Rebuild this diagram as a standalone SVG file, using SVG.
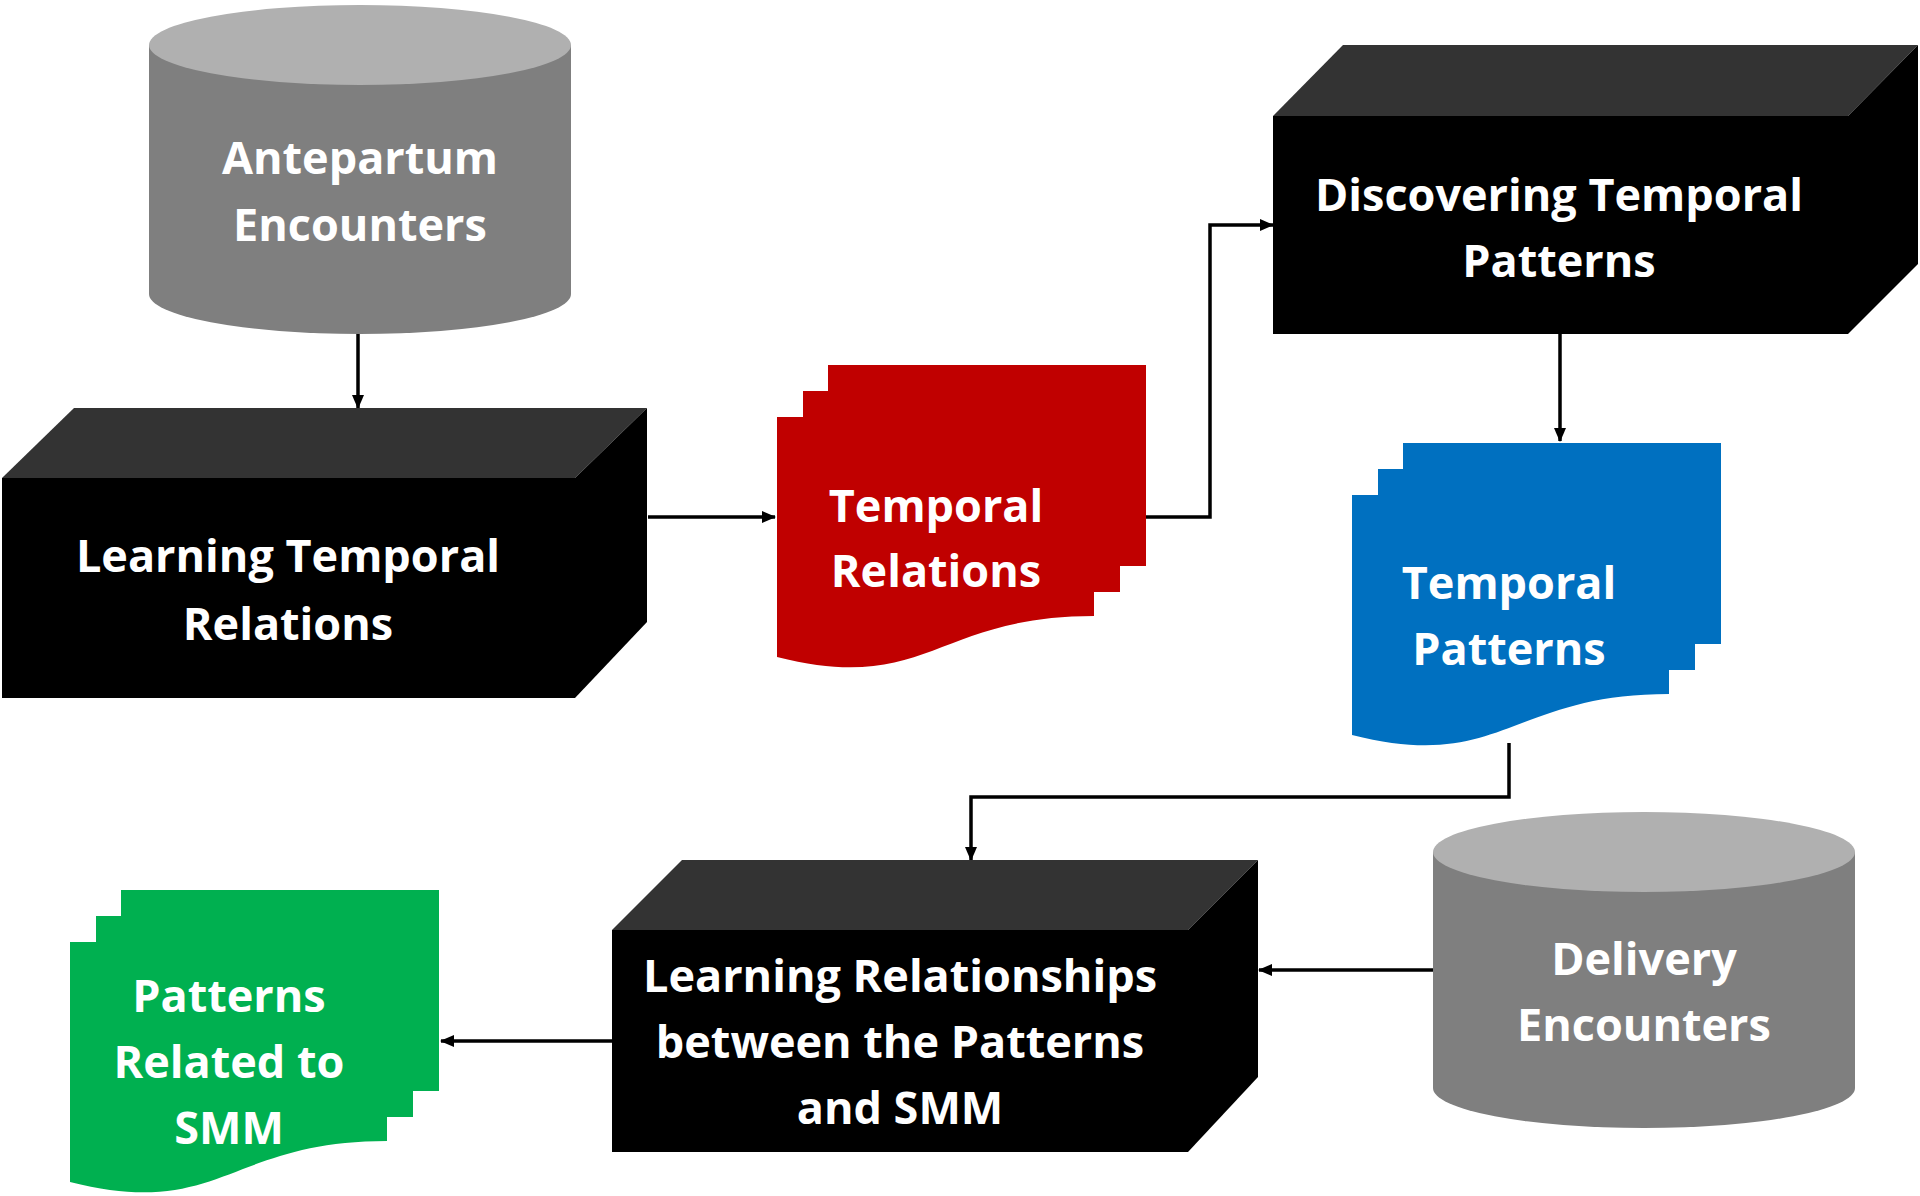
<svg xmlns="http://www.w3.org/2000/svg" width="1920" height="1196" viewBox="0 0 1920 1196">
<style>
.t{font-family:"Open Sans","Liberation Sans",sans-serif;font-weight:700;font-size:45px;fill:#fff;text-anchor:middle}
.top{fill:#333333}
.blk{fill:#000000}
.cylb{fill:#7f7f7f}
.cylt{fill:#b0b0b0}
.c{fill:none;stroke:#000;stroke-width:3.5}
</style>
<defs>
<marker id="ah" markerUnits="userSpaceOnUse" markerWidth="14" markerHeight="12" refX="13" refY="6" orient="auto">
<path d="M0,0 L14,6 L0,12 Z" fill="#000"/>
</marker>
<g id="mdoc">
<rect x="51" y="-52" width="318" height="201"/>
<rect x="26" y="-26" width="317" height="201"/>
<path d="M0,0 L317,0 L317,199 C158,199 150,278 0,240 Z"/>
</g>
</defs>
<rect width="1920" height="1196" fill="#fff"/>

<g id="connectors">
<path class="c" d="M358,333 V408" marker-end="url(#ah)"/>
<path class="c" d="M648,517 H775" marker-end="url(#ah)"/>
<path class="c" d="M1146,517 H1210 V225 H1273" marker-end="url(#ah)"/>
<path class="c" d="M1560,334 V441" marker-end="url(#ah)"/>
<path class="c" d="M1509,743 V797 H971 V860" marker-end="url(#ah)"/>
<path class="c" d="M1433,970 H1259" marker-end="url(#ah)"/>
<path class="c" d="M612,1041 H441" marker-end="url(#ah)"/>
</g>

<g id="antepartum">
<path class="cylb" d="M149,45 V294 A211,40 0 0 0 571,294 V45 Z"/>
<ellipse class="cylt" cx="360" cy="45" rx="211" ry="40"/>
<text class="t" x="360" y="174">Antepartum</text>
<text class="t" x="360" y="241">Encounters</text>
</g>

<g id="learning-temporal">
<path class="top" d="M2,478 L74,408 L647,408 L575,478 Z"/>
<path class="blk" d="M575,478 L647,408 L647,622 L575,698 Z"/>
<rect class="blk" x="2" y="478" width="573" height="220"/>
<text class="t" x="288" y="572">Learning Temporal</text>
<text class="t" x="288" y="640">Relations</text>
</g>

<g id="temporal-relations">
<use href="#mdoc" x="777" y="417" fill="#c00000"/>
<text class="t" x="936" y="522">Temporal</text>
<text class="t" x="936" y="587">Relations</text>
</g>

<g id="discovering">
<path class="top" d="M1273,116 L1343,45 L1918,45 L1848,116 Z"/>
<path class="blk" d="M1848,116 L1918,45 L1918,264 L1848,334 Z"/>
<rect class="blk" x="1273" y="116" width="575" height="218"/>
<text class="t" x="1559" y="211">Discovering Temporal</text>
<text class="t" x="1559" y="277">Patterns</text>
</g>

<g id="temporal-patterns">
<use href="#mdoc" x="1352" y="495" fill="#0070c0"/>
<text class="t" x="1509" y="599">Temporal</text>
<text class="t" x="1509" y="665">Patterns</text>
</g>

<g id="learning-relationships">
<path class="top" d="M612,930 L682,860 L1258,860 L1188,930 Z"/>
<path class="blk" d="M1188,930 L1258,860 L1258,1077 L1188,1152 Z"/>
<rect class="blk" x="612" y="930" width="576" height="222"/>
<text class="t" x="900" y="992">Learning Relationships</text>
<text class="t" x="900" y="1058">between the Patterns</text>
<text class="t" x="900" y="1124">and SMM</text>
</g>

<g id="delivery">
<path class="cylb" d="M1433,852 V1088 A211,40 0 0 0 1855,1088 V852 Z"/>
<ellipse class="cylt" cx="1644" cy="852" rx="211" ry="40"/>
<text class="t" x="1644" y="975">Delivery</text>
<text class="t" x="1644" y="1041">Encounters</text>
</g>

<g id="patterns-smm">
<use href="#mdoc" x="70" y="942" fill="#00b050"/>
<text class="t" x="229" y="1012">Patterns</text>
<text class="t" x="229" y="1078">Related to</text>
<text class="t" x="229" y="1144">SMM</text>
</g>
</svg>
